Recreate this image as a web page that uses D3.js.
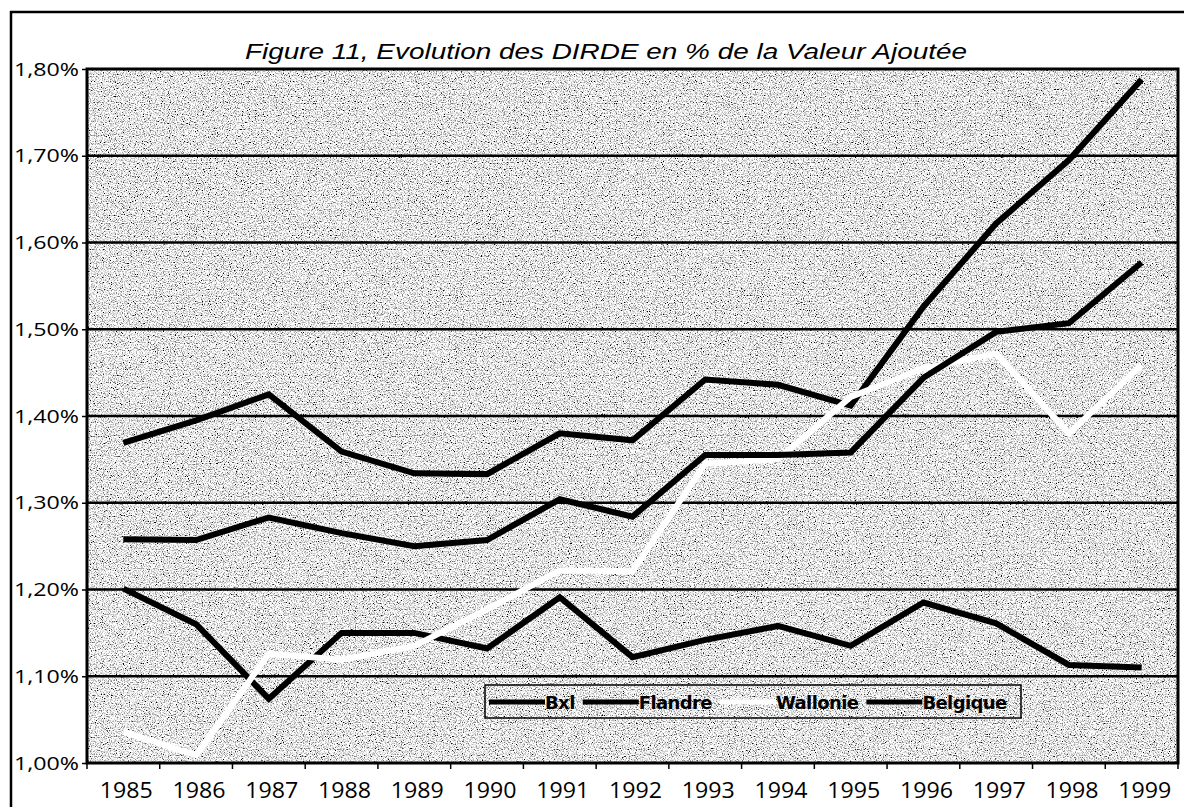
<!DOCTYPE html>
<html lang="fr">
<head>
  <meta charset="utf-8" />
  <title>Evolution des DIRDE</title>
  <script src="https://cdn.jsdelivr.net/npm/d3@7"></script>
  <style>
    html,body{margin:0;padding:0;background:#fff;}
    svg{display:block;}
  </style>
</head>
<body>
<svg id="chart" width="1184" height="807"></svg>
<script>
// --- données (en %) ---
const years    = ['1985','1986','1987','1988','1989','1990','1991','1992','1993','1994','1995','1996','1997','1998','1999'];
const bxl      = [1.201,1.160,1.074,1.150,1.150,1.132,1.191,1.122,1.142,1.158,1.135,1.185,1.161,1.113,1.110];
const flandre  = [1.369,1.395,1.425,1.359,1.334,1.333,1.380,1.372,1.442,1.436,1.412,1.526,1.622,1.695,1.788];
const wallonie = [1.036,1.009,1.126,1.119,1.135,1.177,1.222,1.221,1.345,1.350,1.422,1.455,1.472,1.380,1.459];
const belgique = [1.258,1.257,1.283,1.265,1.250,1.257,1.304,1.284,1.355,1.355,1.358,1.444,1.497,1.507,1.577];
const seriesNames  = ['Bxl','Flandre','Wallonie','Belgique'];
const seriesValues = [bxl, flandre, wallonie, belgique];
const seriesColors = ['#000','#000','#fff','#000'];
const yTicks = [1.0,1.1,1.2,1.3,1.4,1.5,1.6,1.7,1.8];
const title = 'Figure 11, Evolution des DIRDE en % de la Valeur Ajoutée';

const svg = d3.select('#chart');
const pLeft = 87, pRight = 1178, pTop = 69, pBottom = 763;

const x = d3.scaleBand().domain(years).range([pLeft, pRight]);
const y = d3.scaleLinear().domain([1.0, 1.8]).range([pBottom, pTop]);
const fmt = v => d3.format('.2f')(v).replace('.', ',') + '%';

// grain gris du scan
const defs = svg.append('defs');
const f = defs.append('filter').attr('id','grain')
  .attr('x',0).attr('y',0).attr('width',1).attr('height',1);
f.append('feTurbulence').attr('type','fractalNoise').attr('baseFrequency',0.85)
  .attr('numOctaves',2).attr('seed',7).attr('result','t');
f.append('feColorMatrix').attr('type','matrix')
  .attr('values','3.1 0 0 0 -0.73  3.1 0 0 0 -0.73  3.1 0 0 0 -0.73  0 0 0 0 1');

// cadre extérieur
svg.append('line').attr('x1',10).attr('x2',1184).attr('y1',12).attr('y2',12)
  .attr('stroke','#000').attr('stroke-width',2.5);
svg.append('line').attr('x1',11).attr('x2',11).attr('y1',11).attr('y2',807)
  .attr('stroke','#000').attr('stroke-width',2.5);

// titre
svg.append('text').attr('x', 606).attr('y', 59)
  .attr('text-anchor','middle')
  .attr('font-family','"Liberation Sans", Arial, sans-serif')
  .attr('font-style','italic').attr('font-size',22)
  .attr('textLength',722).attr('lengthAdjust','spacingAndGlyphs')
  .text(title);

// fond
svg.append('rect').attr('x',pLeft).attr('y',pTop)
  .attr('width',pRight-pLeft).attr('height',pBottom-pTop)
  .attr('fill','#bbb').attr('filter','url(#grain)');

// quadrillage
svg.append('g').selectAll('line').data(yTicks.slice(1, -1)).join('line')
  .attr('x1',pLeft).attr('x2',pRight)
  .attr('y1',d=>y(d)).attr('y2',d=>y(d))
  .attr('stroke','#000').attr('stroke-width',2.6);

// axe Y
const yAxis = svg.append('g').attr('transform',`translate(${pLeft},0)`)
  .call(d3.axisLeft(y).tickValues(yTicks).tickSize(5).tickPadding(3).tickFormat(fmt));
yAxis.select('.domain').remove();
yAxis.selectAll('line').attr('stroke','#000').attr('stroke-width',1.5);
yAxis.selectAll('text')
  .attr('font-family','"Open Sans", "DejaVu Sans", sans-serif').attr('font-size',19)
  .attr('fill','#000').attr('textLength',65).attr('lengthAdjust','spacingAndGlyphs');

// axe X
const xAxis = svg.append('g').attr('transform',`translate(0,${pBottom})`)
  .call(d3.axisBottom(x).tickSize(0).tickPadding(20));
xAxis.select('.domain').remove();
xAxis.selectAll('text')
  .attr('font-family','"Open Sans", "DejaVu Sans", sans-serif').attr('font-size',21)
  .attr('fill','#000').attr('dx',3)
  .attr('textLength',53).attr('lengthAdjust','spacingAndGlyphs');
svg.append('g').selectAll('line').data(years.map(d=>x(d)).concat([pRight])).join('line')
  .attr('x1',d=>d).attr('x2',d=>d).attr('y1',pBottom).attr('y2',pBottom+6)
  .attr('stroke','#000').attr('stroke-width',1.5);

// cadre du graphique
svg.append('rect').attr('x',pLeft).attr('y',pTop)
  .attr('width',pRight-pLeft).attr('height',pBottom-pTop)
  .attr('fill','none').attr('stroke','#000').attr('stroke-width',3);

// courbes
const line = d3.line()
  .x((d,i)=>x(years[i]) + x.bandwidth()/2)
  .y(d=>y(d));
svg.append('g').selectAll('path').data(seriesValues).join('path')
  .attr('d', line)
  .attr('fill','none')
  .attr('stroke',(d,i)=>seriesColors[i])
  .attr('stroke-width',6)
  .attr('stroke-linejoin','miter');

// légende
const lg = svg.append('g');
lg.append('rect').attr('x',485).attr('y',685).attr('width',536).attr('height',33)
  .attr('fill','none').attr('stroke','#000').attr('stroke-width',1.5);
let cx = 489;
seriesNames.forEach((name,i)=>{
  lg.append('line').attr('x1',cx).attr('x2',cx+56).attr('y1',702).attr('y2',702)
    .attr('stroke',seriesColors[i]).attr('stroke-width',5);
  const t = lg.append('text').attr('x',cx+56).attr('y',709)
    .attr('font-family','"DejaVu Sans", Verdana, sans-serif')
    .attr('font-weight','bold').attr('font-size',18).attr('fill','#000')
    .attr('letter-spacing',-0.6)
    .text(name);
  cx += 56 + t.node().getComputedTextLength() + 8;
});
</script>
</body>
</html>
